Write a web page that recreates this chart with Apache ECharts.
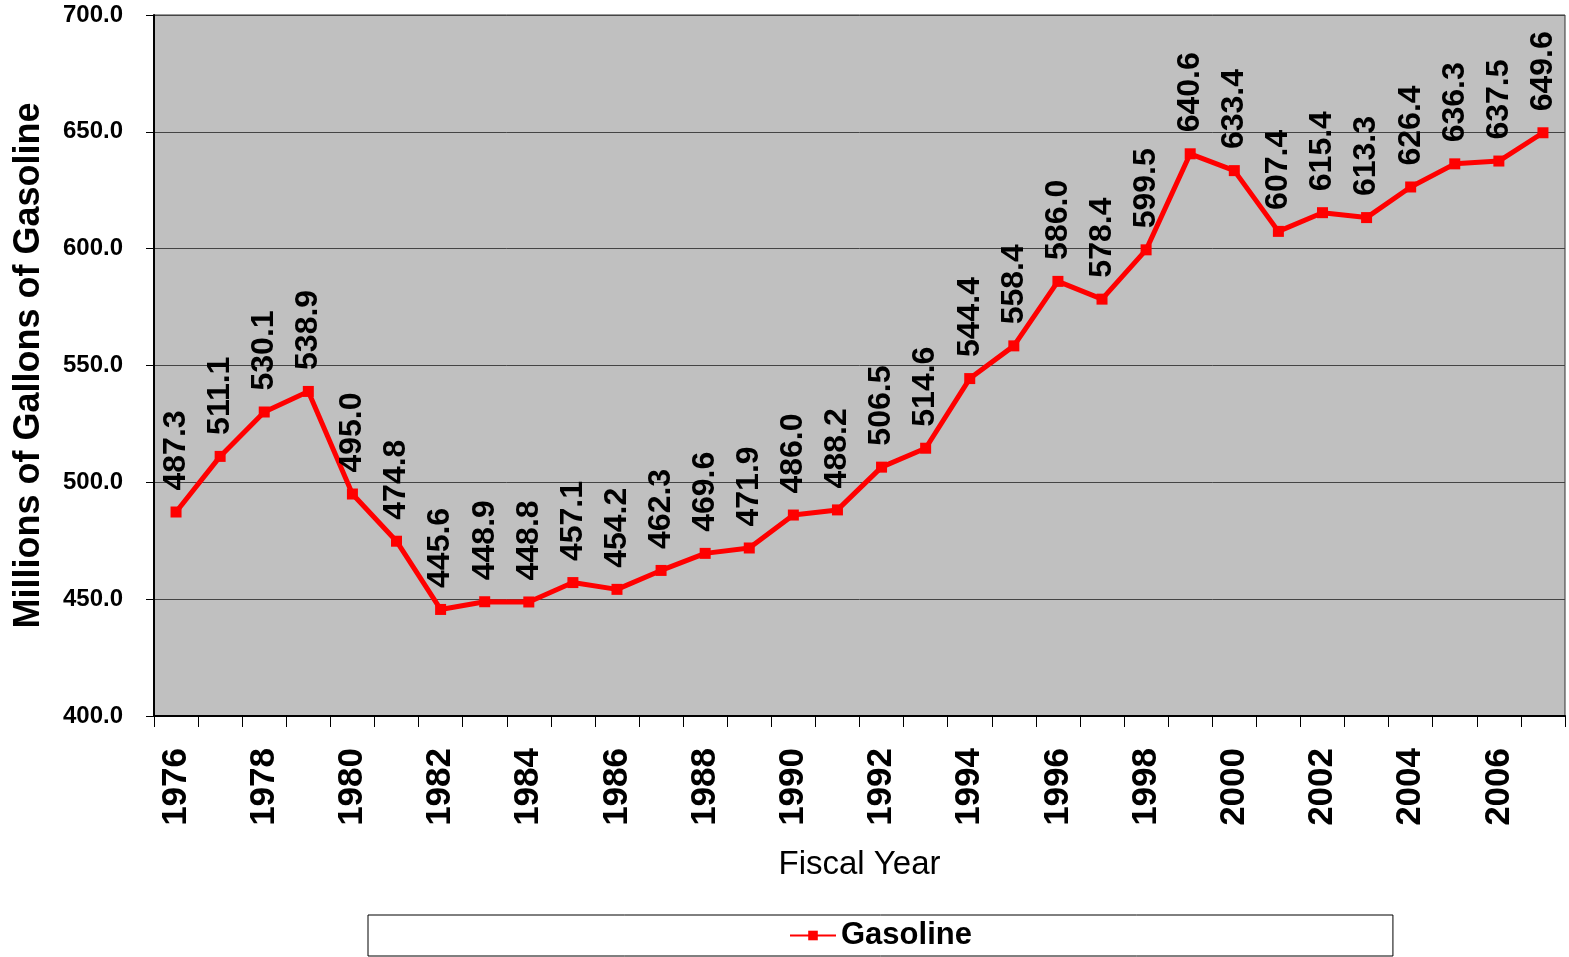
<!DOCTYPE html>
<html>
<head>
<meta charset="utf-8">
<script src="https://cdn.jsdelivr.net/npm/echarts@6/dist/echarts.min.js"></script>
<style>
html,body{margin:0;padding:0;background:#fff;}
#chart{width:1569px;height:957px;}
</style>
</head>
<body>
<div id="chart"></div>
<script>
var years = ['1976','1977','1978','1979','1980','1981','1982','1983','1984','1985','1986','1987','1988','1989','1990','1991','1992','1993','1994','1995','1996','1997','1998','1999','2000','2001','2002','2003','2004','2005','2006','2007'];
var gasoline = [487.3,511.1,530.1,538.9,495.0,474.8,445.6,448.9,448.8,457.1,454.2,462.3,469.6,471.9,486.0,488.2,506.5,514.6,544.4,558.4,586.0,578.4,599.5,640.6,633.4,607.4,615.4,613.3,626.4,636.3,637.5,649.6];
var yMin = 400, yMax = 700, yStep = 50;
var FONT = "'Liberation Sans', Arial, sans-serif";

var chart = echarts.init(document.getElementById('chart'));
chart.setOption({
  animation: false,
  textStyle: { fontFamily: FONT, color: '#000' },
  grid: {
    left: 154, right: 4, top: 15, bottom: 241,
    show: true, backgroundColor: '#C0C0C0', borderColor: '#333', borderWidth: 1
  },
  legend: {
    data: ['Gasoline'],
    left: 368, top: 915,
    padding: [5, 421, 5, 421],
    borderColor: '#000', borderWidth: 1, backgroundColor: '#fff',
    itemWidth: 46, itemHeight: 12, itemGap: 6,
    textStyle: { fontSize: 31, fontWeight: 'bold', fontFamily: FONT, color: '#000' }
  },
  xAxis: {
    type: 'category',
    data: years,
    boundaryGap: true,
    name: 'Fiscal Year',
    nameLocation: 'middle',
    nameGap: 132,
    nameTextStyle: { fontSize: 33, fontFamily: FONT, color: '#000' },
    axisLine: { lineStyle: { color: '#000', width: 2 } },
    axisTick: { show: true, interval: 0, length: 11, lineStyle: { color: '#000', width: 1 } },
    axisLabel: { interval: 1, rotate: 90, margin: 32, fontSize: 35, fontWeight: 'bold', fontFamily: FONT, color: '#000' },
    splitLine: { show: false }
  },
  yAxis: {
    type: 'value',
    min: yMin, max: yMax, interval: yStep,
    name: 'Millions of Gallons of Gasoline',
    nameLocation: 'middle',
    nameGap: 107,
    nameRotate: 90,
    nameTextStyle: { fontSize: 36, fontWeight: 'bold', fontFamily: FONT, color: '#000' },
    axisLine: { show: true, lineStyle: { color: '#000', width: 2 } },
    axisTick: { show: true, length: 8, lineStyle: { color: '#000' } },
    axisLabel: { margin: 31, fontSize: 24, fontWeight: 'bold', fontFamily: FONT, color: '#000',
      formatter: function (v) { return v.toFixed(1); } },
    splitLine: { show: true, lineStyle: { color: '#444', width: 1 } }
  },
  series: [{
    name: 'Gasoline',
    type: 'line',
    data: gasoline,
    symbol: 'rect',
    symbolSize: 11,
    lineStyle: { color: '#FF0000', width: 5 },
    itemStyle: { color: '#FF0000' },
    label: {
      show: true,
      position: 'top',
      distance: 16,
      rotate: 90,
      align: 'left',
      verticalAlign: 'middle',
      fontSize: 32,
      fontWeight: 'bold',
      fontFamily: FONT,
      color: '#000',
      formatter: function (p) { return p.value.toFixed(1); }
    }
  }]
});
</script>
</body>
</html>
